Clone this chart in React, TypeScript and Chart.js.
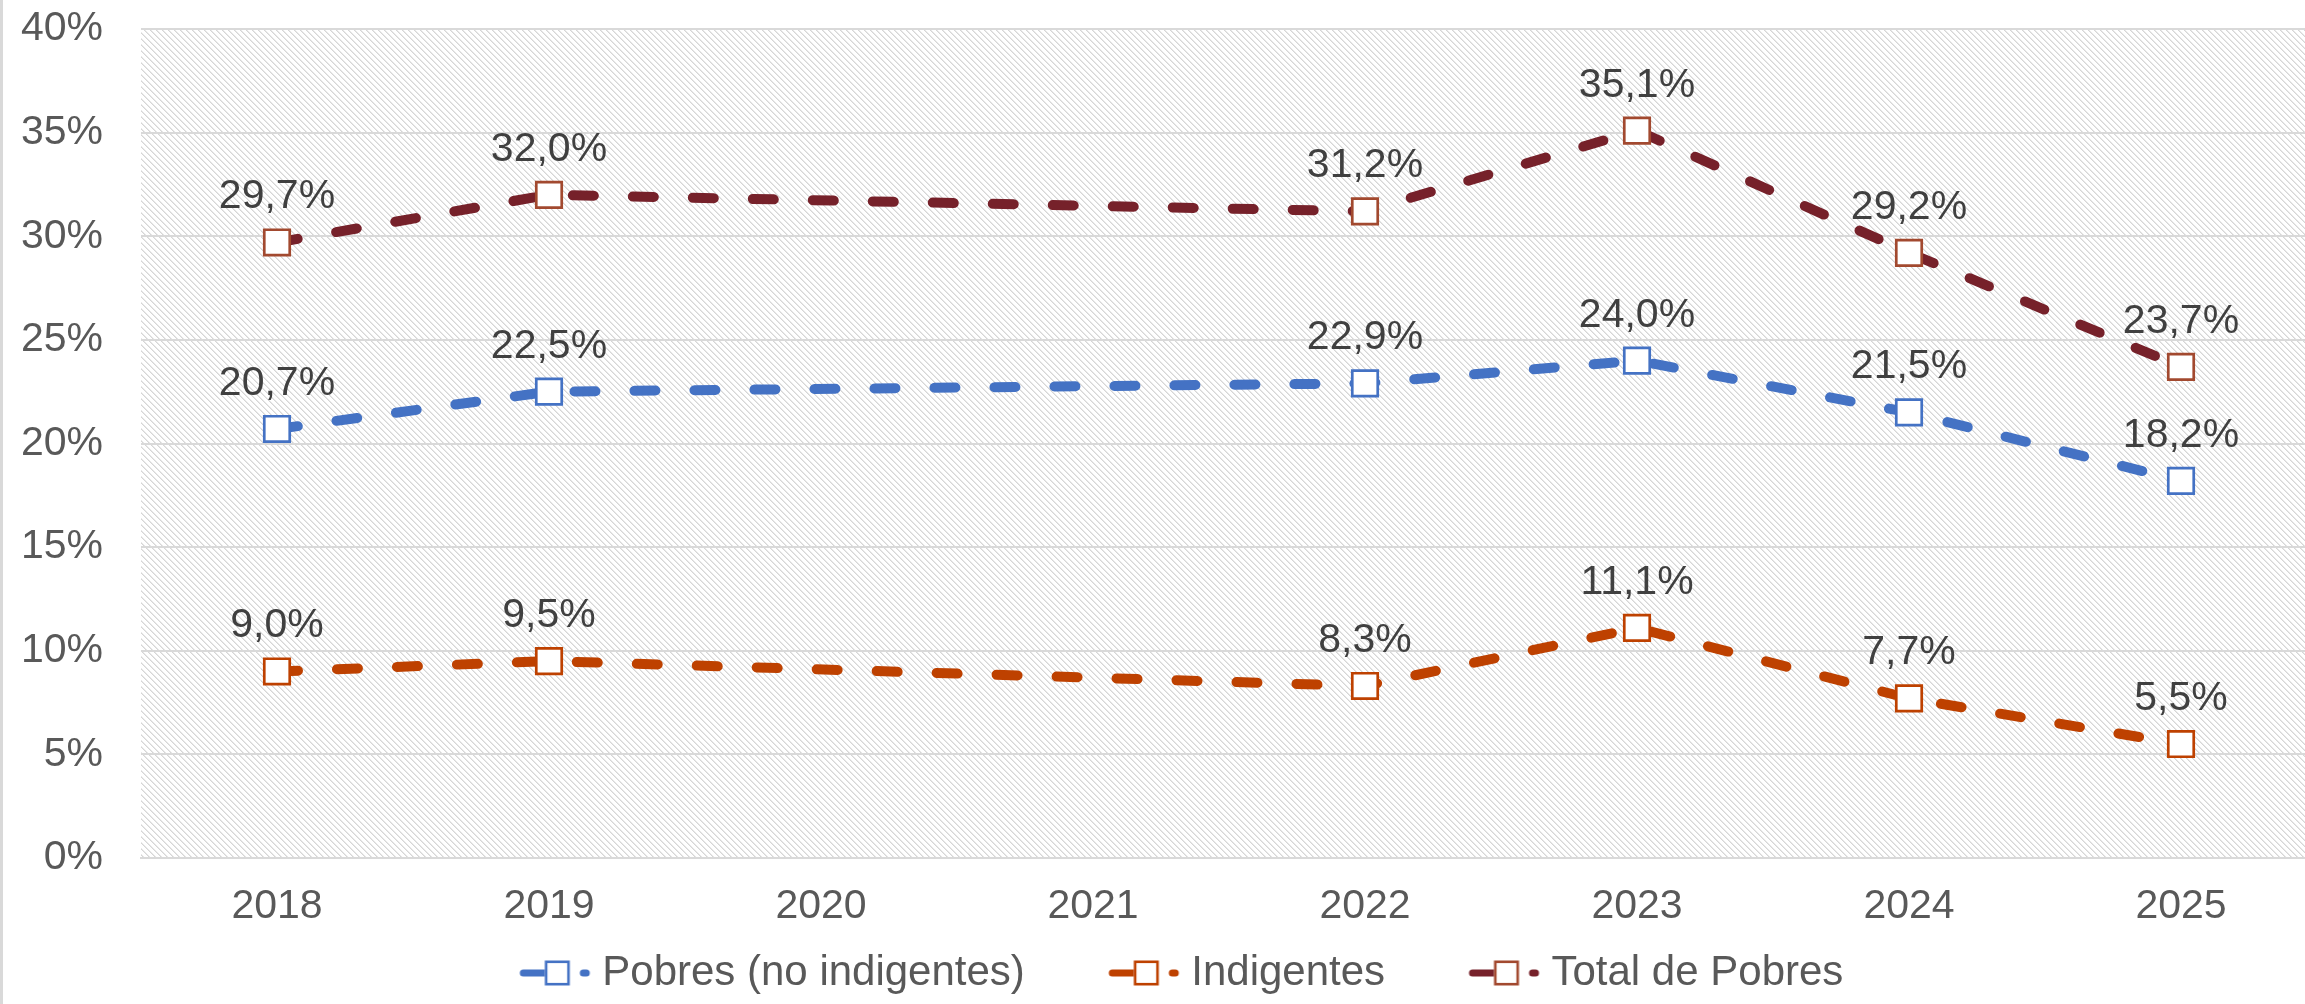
import React, { useEffect, useRef } from "react";
import { Chart, registerables } from "chart.js";

Chart.register(...registerables);

// ---- data ----
const YEARS = ["2018", "2019", "2020", "2021", "2022", "2023", "2024", "2025"];
const POBRES_NO_INDIGENTES = [20.7, 22.5, null, null, 22.9, 24.0, 21.5, 18.2];
const INDIGENTES = [9.0, 9.5, null, null, 8.3, 11.1, 7.7, 5.5];
const TOTAL_POBRES = [29.7, 32.0, null, null, 31.2, 35.1, 29.2, 23.7];
const SERIES_NAMES = ["Pobres (no indigentes)", "Indigentes", "Total de Pobres"];
const Y_MIN = 0;
const Y_MAX = 40;
const Y_STEP = 5;

// ---- styles ----
const FONT = "'Liberation Sans', Arial, sans-serif";
const FS = 41;
const LEGEND_FS = 42;
const BLUE = "#4472C4";
const ORANGE = "#BE4100";
const DARKRED = "#76212A";
const DARKRED_PT = "#A2492F";
const CANVAS_W = 2317;
const CANVAS_H = 1004;
const LEGEND_PAD = 21;
const LEGEND_BOX = 116;
const LEGEND_H = LEGEND_FS + LEGEND_PAD + 10;
const AREA_BOTTOM = 858;

function makeLegendMarker(lineColor: string, boxColor: string): HTMLCanvasElement {
  const c = document.createElement("canvas");
  c.width = 136;
  c.height = 30;
  const ctx = c.getContext("2d")!;
  const m = LEGEND_BOX / 2 + 6.5;
  const cy = 15;
  ctx.strokeStyle = lineColor;
  ctx.lineWidth = 7;
  ctx.lineCap = "round";
  ctx.beginPath();
  ctx.moveTo(m + 3.5, cy);
  ctx.lineTo(m + 26, cy);
  ctx.stroke();
  ctx.beginPath();
  ctx.moveTo(m + 63.5, cy);
  ctx.lineTo(m + 66.5, cy);
  ctx.stroke();
  ctx.fillStyle = "#ffffff";
  ctx.fillRect(m + 25, cy - 12.5, 25, 25);
  ctx.strokeStyle = boxColor;
  ctx.lineWidth = 2.6;
  ctx.strokeRect(m + 26.3, cy - 11.2, 22.4, 22.4);
  return c;
}

function makeHatch(ctxMain: CanvasRenderingContext2D): CanvasPattern | string {
  const n = 6;
  const c = document.createElement("canvas");
  c.width = n;
  c.height = n;
  const ctx = c.getContext("2d")!;
  ctx.fillStyle = "#ffffff";
  ctx.fillRect(0, 0, n, n);
  for (let y = 0; y < n; y++) {
    for (let x = 0; x < n; x++) {
      const d = (((x - y) % n) + n) % n;
      if (d === 0) {
        ctx.fillStyle = "#d6d6d6";
        ctx.fillRect(x, y, 1, 1);
      } else if (d === 1) {
        ctx.fillStyle = "#e8e8e8";
        ctx.fillRect(x, y, 1, 1);
      }
    }
  }
  return ctxMain.createPattern(c, "repeat") || "#eeeeee";
}

const backgroundPlugin = {
  id: "bgHatch",
  beforeDraw(chart: any) {
    const { ctx, chartArea } = chart;
    ctx.save();
    ctx.fillStyle = "#ffffff";
    ctx.fillRect(0, 0, chart.width, chart.height);
    ctx.fillStyle = makeHatch(ctx);
    ctx.fillRect(chartArea.left, chartArea.top, chartArea.right - chartArea.left, chartArea.bottom - chartArea.top);
    ctx.fillStyle = "#d9d9d9";
    ctx.fillRect(0, 0, 3, chart.height);
    ctx.restore();
  },
};

const dataLabelPlugin = {
  id: "dataLabels",
  afterDatasetsDraw(chart: any) {
    const { ctx } = chart;
    ctx.save();
    ctx.font = `${FS}px ${FONT}`;
    ctx.fillStyle = "#404040";
    ctx.textAlign = "center";
    ctx.textBaseline = "alphabetic";
    chart.data.datasets.forEach((ds: any, i: number) => {
      const meta = chart.getDatasetMeta(i);
      meta.data.forEach((pt: any, j: number) => {
        const v = ds.data[j];
        if (v === null || v === undefined) return;
        const txt = v.toFixed(1).replace(".", ",") + "%";
        ctx.fillText(txt, pt.x, pt.y - 34);
      });
    });
    ctx.restore();
  },
};

export default function App() {
  const ref = useRef<HTMLCanvasElement | null>(null);

  useEffect(() => {
    if (!ref.current) return;
    const markers = [
      makeLegendMarker(BLUE, BLUE),
      makeLegendMarker(ORANGE, ORANGE),
      makeLegendMarker(DARKRED, DARKRED_PT),
    ];
    const lineCommon = {
      borderWidth: 10,
      borderDash: [21, 39],
      borderCapStyle: "round" as const,
      tension: 0,
      spanGaps: true,
      pointStyle: "rect" as const,
      pointRadius: 18,
      pointHoverRadius: 18,
      pointBorderWidth: 2.7,
      pointBackgroundColor: "#ffffff",
      fill: false,
    };
    const chart = new Chart(ref.current, {
      type: "line",
      data: {
        labels: YEARS,
        datasets: [
          { ...lineCommon, label: SERIES_NAMES[0], data: POBRES_NO_INDIGENTES, borderColor: BLUE, pointBorderColor: BLUE },
          { ...lineCommon, label: SERIES_NAMES[1], data: INDIGENTES, borderColor: ORANGE, pointBorderColor: ORANGE },
          { ...lineCommon, label: SERIES_NAMES[2], data: TOTAL_POBRES, borderColor: DARKRED, pointBorderColor: DARKRED_PT },
        ] as any,
      },
      options: {
        responsive: false,
        animation: false,
        events: [],
        devicePixelRatio: 1,
        layout: { autoPadding: false, padding: { top: 29, left: 0, right: 0, bottom: 0 } },
        font: { family: FONT, size: FS },
        scales: {
          x: {
            offset: true,
            grid: { display: false, drawTicks: false },
            border: { display: true, color: "#d9d9d9", width: 2 },
            ticks: { color: "#595959", font: { family: FONT, size: FS, lineHeight: 1.2 }, padding: 24, maxRotation: 0, autoSkip: false },
            afterFit: (s: any) => {
              s.height = CANVAS_H - AREA_BOTTOM - LEGEND_H;
              s.paddingLeft = 0;
              s.paddingRight = 0;
            },
          },
          y: {
            min: Y_MIN,
            max: Y_MAX,
            grid: { color: "#d9d9d9", lineWidth: 2, drawTicks: false },
            border: { display: false },
            ticks: {
              stepSize: Y_STEP,
              color: "#595959",
              font: { family: FONT, size: FS, lineHeight: 1.2 },
              padding: 38,
              callback: (v: any) => `${v}%`,
            },
            afterFit: (s: any) => {
              s.width = 141;
              s.paddingTop = 0;
              s.paddingBottom = 0;
            },
          },
        },
        plugins: {
          tooltip: { enabled: false },
          legend: {
            display: true,
            position: "bottom",
            labels: {
              usePointStyle: true,
              pointStyleWidth: LEGEND_BOX,
              boxHeight: 30,
              padding: LEGEND_PAD,
              color: "#595959",
              font: { family: FONT, size: LEGEND_FS },
              generateLabels: (ch: any) => {
                const items = (Chart.defaults.plugins.legend.labels as any).generateLabels(ch);
                return items.map((it: any, i: number) => ({
                  ...it,
                  text: it.text + "\u2009",
                  pointStyle: markers[i],
                  lineWidth: 0,
                }));
              },
            },
          },
        },
      } as any,
      plugins: [backgroundPlugin, dataLabelPlugin],
    });
    return () => chart.destroy();
  }, []);

  return (
    <div
      style={{
        position: "fixed",
        left: 0,
        top: 0,
        width: 2305,
        height: 1004,
        overflow: "hidden",
        background: "#ffffff",
      }}
    >
      <canvas
        ref={ref}
        width={CANVAS_W}
        height={CANVAS_H}
        style={{ display: "block", width: CANVAS_W, height: CANVAS_H }}
      />
    </div>
  );
}
